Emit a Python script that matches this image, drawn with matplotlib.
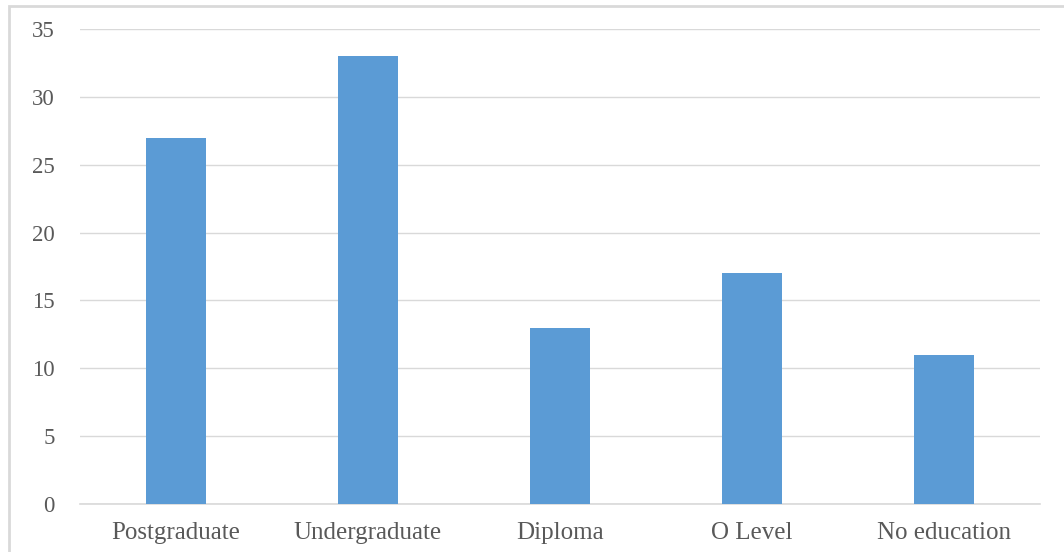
import matplotlib.pyplot as plt
import matplotlib.patches as patches
import numpy as np

categories = ['Postgraduate', 'Undergraduate', 'Diploma', 'O Level', 'No education']
values = [27, 33, 13, 17, 11]
yticks = [0, 5, 10, 15, 20, 25, 30, 35]

plt.rcParams['font.family'] = ['Liberation Serif', 'DejaVu Serif']

fig = plt.figure(figsize=(10.64, 5.52), dpi=100)
ax = fig.add_axes([80/1064, 1 - 504/552, 960/1064, 475/552])

x = np.arange(len(categories))
ax.bar(x, values, width=0.315, color='#5B9BD5', zorder=3)

ax.set_xlim(-0.5, len(categories) - 0.5)
ax.set_ylim(0, 35)
ax.set_yticks(yticks)
ax.set_xticks(x)
ax.set_xticklabels(categories)

ax.grid(axis='y', color='#d9d9d9', linewidth=1, zorder=0)
ax.axhline(0, color='#d9d9d9', linewidth=1.2, zorder=1, clip_on=False)
for s in ax.spines.values():
    s.set_visible(False)
ax.tick_params(axis='both', length=0, colors='#595959')
ax.tick_params(axis='x', labelsize=18, pad=13)
ax.tick_params(axis='y', labelsize=16.5, pad=18)

# outer chart border
border = patches.Rectangle((9/1064, -0.1), 1.2, 1 - 6/552 + 0.1, transform=fig.transFigure,
                           fill=False, edgecolor='#d9d9d9', linewidth=2)
fig.patches.append(border)

fig.savefig('out.png', dpi=100)
